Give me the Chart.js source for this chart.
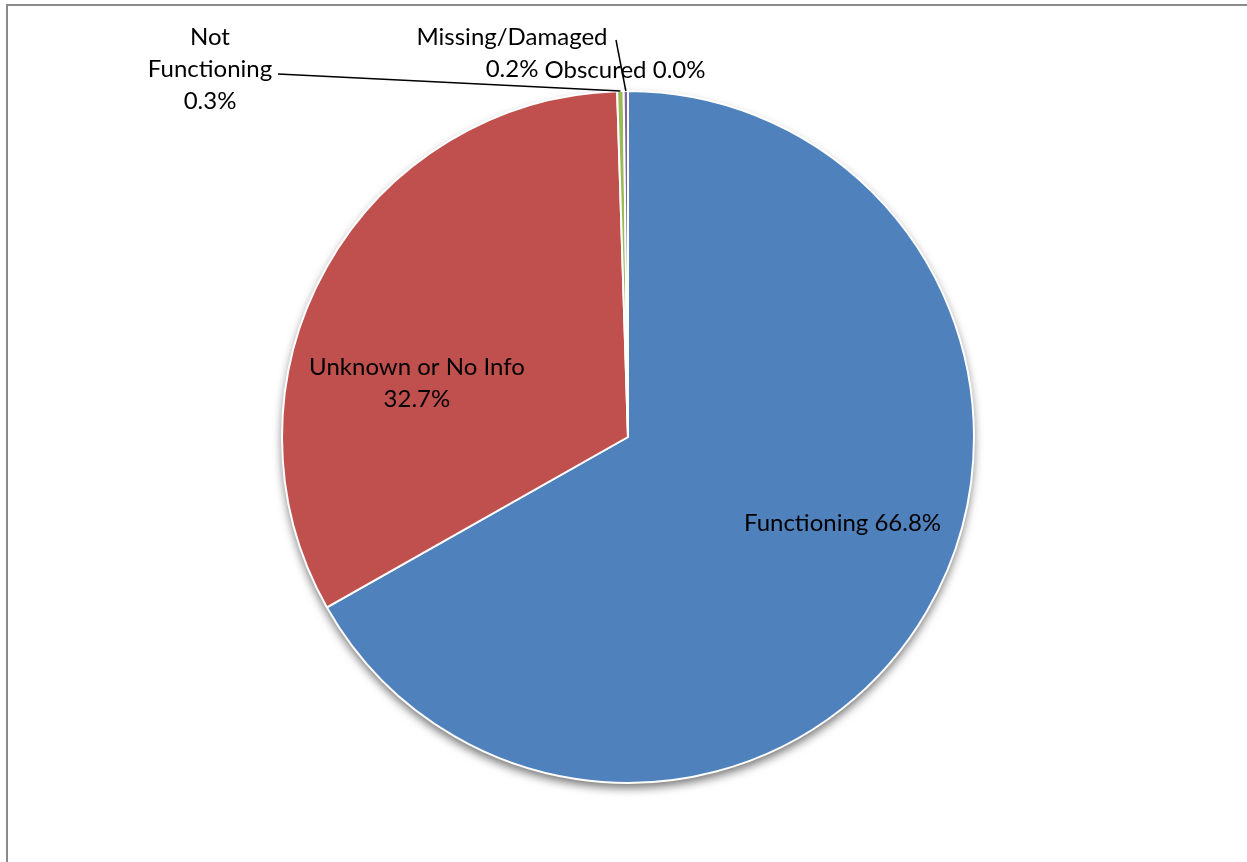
<!DOCTYPE html>
<html>
<head>
<meta charset="utf-8">
<script src="https://cdn.jsdelivr.net/npm/chart.js@4.4.1/dist/chart.umd.min.js"></script>
<style>
  html, body { margin: 0; padding: 0; background: #fff; }
  #wrap { position: relative; width: 1247px; height: 862px; overflow: hidden; }
  #frame { position: absolute; left: 6px; top: 4px; width: 1300px; height: 900px;
           border-top: 2px solid #8a8a8a; border-left: 2px solid #8a8a8a; pointer-events: none; }
  canvas { position: absolute; left: 0; top: 0; }
</style>
</head>
<body>
<div id="wrap">
  <canvas id="c" width="1247" height="862"></canvas>
  <div id="frame"></div>
</div>
<script>
// ---- data ----
const categories = ["Functioning", "Unknown or No Info", "Not Functioning", "Missing/Damaged", "Obscured"];
const percentValues = [66.8, 32.7, 0.3, 0.2, 0.0];
const sliceColors = ["#4F81BD", "#C0504D", "#9BBB59", "#8064A2", "#4BACC6"];

// ---- label layout (styling / placement only) ----
const FONT = '24px "Lato", "Open Sans", sans-serif';
const labelLayout = [
  { mode: "inside", dx: 0.62, dy: 0.25, lines: (c, v) => [c + " " + v] },
  { mode: "inside", dx: -0.61, dy: -0.155, lines: (c, v) => [c, v] },
  { mode: "outside", x: 210, y: 37, anchorX: 278, anchorY: 74, lines: () => ["Not", "Functioning", null] },
  { mode: "outside", x: 512, y: 37, anchorX: 616, anchorY: 40, lines: () => ["Missing/Damaged", null] },
  { mode: "free", x: 625, y: 70, lines: (c, v) => [c + " " + v] }
];

function fmt(v) { return v.toFixed(1) + "%"; }

const shadowPlugin = {
  id: "pieShadow",
  beforeDatasetsDraw(chart) {
    const arc = chart.getDatasetMeta(0).data[0];
    if (!arc) return;
    const ctx = chart.ctx;
    ctx.save();
    ctx.beginPath();
    ctx.arc(arc.x, arc.y, arc.outerRadius, 0, Math.PI * 2);
    ctx.fillStyle = "#ffffff";
    ctx.shadowColor = "rgba(0,0,0,0.55)";
    ctx.shadowBlur = 10;
    ctx.shadowOffsetY = 5;
    ctx.fill();
    ctx.restore();
  }
};

const labelPlugin = {
  id: "pieLabels",
  afterDatasetsDraw(chart) {
    const ctx = chart.ctx;
    const meta = chart.getDatasetMeta(0);
    const lh = 32;
    ctx.save();
    ctx.font = FONT;
    ctx.fillStyle = "#000";
    ctx.textAlign = "center";
    ctx.textBaseline = "middle";
    meta.data.forEach((arc, i) => {
      const L = labelLayout[i];
      const cat = categories[i];
      const val = fmt(percentValues[i]);
      let lines = L.lines(cat, val).map(s => s === null ? val : s);
      if (L.mode === "inside") {
        const r = arc.outerRadius;
        const x = arc.x + L.dx * r;
        const y = arc.y + L.dy * r;
        const y0 = y - (lines.length - 1) * lh / 2;
        lines.forEach((s, k) => ctx.fillText(s, x, y0 + k * lh));
      } else {
        if (L.mode === "outside") {
          const mid = (arc.startAngle + arc.endAngle) / 2;
          const ex = arc.x + Math.cos(mid) * arc.outerRadius;
          const ey = arc.y + Math.sin(mid) * arc.outerRadius;
          ctx.save();
          ctx.strokeStyle = "#000";
          ctx.lineWidth = 1.5;
          ctx.beginPath();
          ctx.moveTo(L.anchorX, L.anchorY);
          ctx.lineTo(ex, ey);
          ctx.stroke();
          ctx.restore();
        }
        lines.forEach((s, k) => ctx.fillText(s, L.x, L.y + k * lh));
      }
    });
    ctx.restore();
  }
};

new Chart(document.getElementById("c"), {
  type: "pie",
  data: {
    labels: categories,
    datasets: [{
      data: percentValues,
      backgroundColor: sliceColors,
      borderColor: "#ffffff",
      borderWidth: 2
    }]
  },
  options: {
    responsive: false,
    animation: false,
    layout: { padding: { left: 281, right: 272, top: 90, bottom: 78 } },
    plugins: { legend: { display: false }, tooltip: { enabled: false } }
  },
  plugins: [shadowPlugin, labelPlugin]
});
</script>
</body>
</html>
